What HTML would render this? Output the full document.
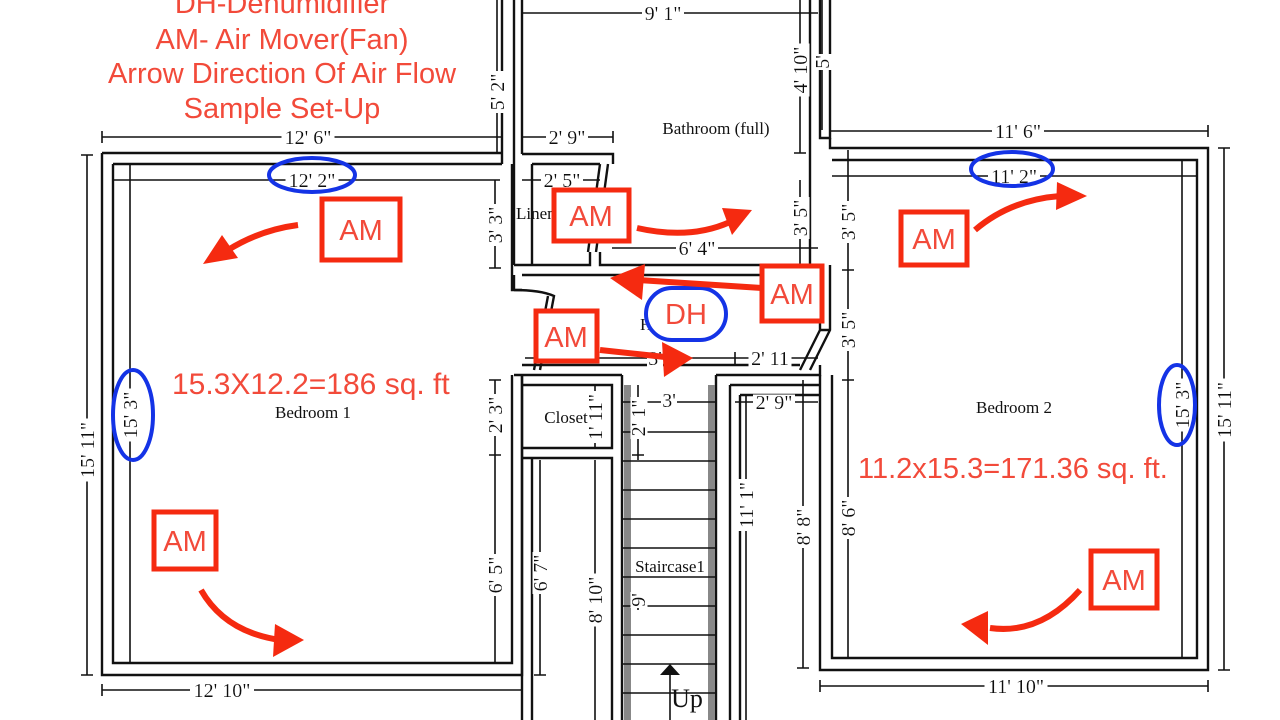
<!DOCTYPE html>
<html><head><meta charset="utf-8"><style>
html,body{margin:0;padding:0;background:#fff;width:1280px;height:720px;overflow:hidden}
svg{display:block}
.w{stroke:#111;stroke-width:2.4;fill:none}
.d{stroke:#111;stroke-width:1.6;fill:none}
.t{font-family:"Liberation Serif",serif;font-size:20px;fill:#111;filter:url(#bg)}
.n{font-family:"Liberation Serif",serif;font-size:17px;fill:#111}
.r{font-family:"Liberation Sans",sans-serif;fill:#f24a3a}
.bx{stroke:#f52a10;stroke-width:5;fill:#fff}
.bo{stroke:#1433e6;stroke-width:4;fill:none}
.ar{stroke:#f52a10;stroke-width:6;fill:none;stroke-linecap:butt}
.ah{fill:#f52a10}
</style></head><body>
<svg width="1280" height="720" viewBox="0 0 1280 720" xmlns="http://www.w3.org/2000/svg">
<defs>
<filter id="bg" x="-0.06" y="0.12" width="1.12" height="0.76">
<feFlood flood-color="#ffffff"/>
<feComposite in="SourceGraphic" operator="over"/>
</filter>
</defs>
<path class="w" d="M102 153 H502 M102 153 V675 H522 V375 M113 164 H502 M113 164 V663 H512 V375"/>
<path class="w" d="M502 0 V164 M514 0 V265 M522 0 V154"/>
<path class="w" d="M512 164 V290 H522 M514 265 H522"/>
<path class="d" d="M102 137 H502 M102 131 V143 M502 131 V143"/>
<text class="t" x="308" y="144" text-anchor="middle">12' 6"</text>
<path class="d" d="M113 180 H500 M130 165 V663"/>
<text class="t" x="312" y="187" text-anchor="middle">12' 2"</text>
<path class="d" d="M87 155 V675 M81 155 H93 M81 675 H93"/>
<text class="t" transform="translate(94 450) rotate(-90)" text-anchor="middle">15' 11"</text>
<text class="t" transform="translate(137 415) rotate(-90)" text-anchor="middle">15' 3"</text>
<path class="d" d="M102 690 H522 M102 684 V696 M522 684 V696"/>
<text class="t" x="222" y="697" text-anchor="middle">12' 10"</text>
<path class="d" d="M495 180 V268 M489 268 H501 M495 380 V663 M489 380 H501 M489 455 H501"/>
<text class="t" transform="translate(502 225) rotate(-90)" text-anchor="middle">3' 3"</text>
<text class="t" transform="translate(502 415) rotate(-90)" text-anchor="middle">2' 3"</text>
<text class="t" transform="translate(502 575) rotate(-90)" text-anchor="middle">6' 5"</text>
<path class="d" d="M497 0 V153"/>
<text class="t" transform="translate(504 92) rotate(-90)" text-anchor="middle">5' 2"</text>

<path class="w" d="M810 0 V265 M820 0 V138 H830 V0"/>
<path class="d" d="M522 13 H818"/>
<text class="t" x="663" y="20" text-anchor="middle">9' 1"</text>
<path class="d" d="M800 0 V153 M794 153 H806 M800 180 V265"/>
<text class="t" transform="translate(807 70) rotate(-90)" text-anchor="middle">4' 10"</text>
<text class="t" transform="translate(807 218) rotate(-90)" text-anchor="middle">3' 5"</text>
<path class="d" d="M822 0 V130"/>
<text class="t" transform="translate(829 62) rotate(-90)" text-anchor="middle">5'</text>
<text class="n" x="716" y="134" text-anchor="middle">Bathroom (full)</text>
<path class="d" d="M522 137 H613 M613 131 V143"/>
<text class="t" x="567" y="144" text-anchor="middle">2' 9"</text>
<path class="w" d="M522 154 H613 V164 M532 164 H600 M532 164 V265 M522 265 H590 V252 M600 252 V265 H810 M600 164 L588 252 M608 164 L596 252"/>
<path class="d" d="M522 180 H600"/>
<text class="t" x="562" y="187" text-anchor="middle">2' 5"</text>
<text class="n" x="516" y="219">Linen</text>
<path class="d" d="M612 248 H818"/>
<text class="t" x="697" y="255" text-anchor="middle">6' 4"</text>
<path class="w" d="M522 275 H820 M514 290 V275 M514 290 C530 290 545 292 554 296 L540 370 M548 296 L534 370 M522 365 H800 M514 375 H622 M716 375 H820 V365 M820 265 V330 L800 370 M830 265 V330 L810 370 M820 330 H830"/>
<text class="n" x="640" y="330">H</text>
<path class="d" d="M525 358 H818 M735 352 V364"/>
<text class="t" x="655" y="365" text-anchor="middle">3'</text>
<text class="t" x="770" y="365" text-anchor="middle">2' 11</text>
<path class="w" d="M522 375 V720 M522 385 H612 V448 H522 M522 458 H612 V720 M532 458 V720"/>
<path class="d" d="M595 385 V448 M540 460 V675 M534 675 H546 M595 460 V720"/>
<text class="n" x="566" y="423" text-anchor="middle">Closet</text>
<text class="t" transform="translate(602 417) rotate(-90)" text-anchor="middle">1' 11"</text>
<text class="t" transform="translate(547 573) rotate(-90)" text-anchor="middle">6' 7"</text>
<text class="t" transform="translate(602 600) rotate(-90)" text-anchor="middle">8' 10"</text>
<path class="w" d="M622 375 V720 M716 375 V720"/>
<rect x="624" y="385" width="7" height="335" fill="#888"/>
<rect x="708" y="385" width="7" height="335" fill="#888"/>
<g class="d">
<path d="M622 432 H716 M622 461 H716 M622 490 H716 M622 519 H716 M622 548 H716 M622 577 H716 M622 606 H716 M622 635 H716 M622 664 H716 M622 693 H716"/>
<path d="M638 385 V460 M632 455 H644 M638 595 V610 M622 402 H716"/>
</g>
<text class="t" x="669" y="407" text-anchor="middle">3'</text>
<text class="t" transform="translate(645 418) rotate(-90)" text-anchor="middle">2' 1"</text>
<text class="t" transform="translate(645 600) rotate(-90)" text-anchor="middle">9'</text>
<text class="n" x="670" y="572" text-anchor="middle">Staircase1</text>
<path class="d" d="M670 675 V720"/>
<polygon points="660,675 680,675 670,664" fill="#111"/>
<text class="n" x="687" y="707" text-anchor="middle" style="font-size:26px">Up</text>
<path class="w" d="M730 385 V720 M740 395 V720 M730 385 H820 M740 395 H820 M820 375 V385"/>
<path class="d" d="M735 402 H818 M746 395 V720"/>
<text class="t" x="774" y="409" text-anchor="middle">2' 9"</text>
<text class="t" transform="translate(753 505) rotate(-90)" text-anchor="middle">11' 1"</text>

<path class="w" d="M830 138 V148 H1208 V670 H820 V385 M832 160 H1197 V658 H832 V375"/>
<path class="d" d="M830 131 H1208 M1208 125 V137"/>
<text class="t" x="1018" y="138" text-anchor="middle">11' 6"</text>
<path class="d" d="M832 176 H1197 M848 150 V658 M842 270 H854 M842 380 H854 M1182 160 V658"/>
<text class="t" x="1014" y="183" text-anchor="middle">11' 2"</text>
<text class="t" transform="translate(855 222) rotate(-90)" text-anchor="middle">3' 5"</text>
<text class="t" transform="translate(855 330) rotate(-90)" text-anchor="middle">3' 5"</text>
<text class="t" transform="translate(855 518) rotate(-90)" text-anchor="middle">8' 6"</text>
<text class="t" transform="translate(1189 405) rotate(-90)" text-anchor="middle">15' 3"</text>
<path class="d" d="M1224 148 V670 M1218 148 H1230 M1218 670 H1230"/>
<text class="t" transform="translate(1231 410) rotate(-90)" text-anchor="middle">15' 11"</text>
<path class="d" d="M803 380 V668 M797 668 H809"/>
<text class="t" transform="translate(810 527) rotate(-90)" text-anchor="middle">8' 8"</text>
<path class="d" d="M820 686 H1208 M820 680 V692 M1208 680 V692"/>
<text class="t" x="1016" y="693" text-anchor="middle">11' 10"</text>
<text class="n" x="1014" y="413" text-anchor="middle">Bedroom 2</text>
<text class="n" x="313" y="418" text-anchor="middle">Bedroom 1</text>

<g class="r" font-size="29" text-anchor="middle">
<text x="282" y="13">DH-Dehumidifier</text>
<text x="282" y="49">AM- Air Mover(Fan)</text>
<text x="282" y="83">Arrow Direction Of  Air Flow</text>
<text x="282" y="118">Sample Set-Up</text>
</g>

<text class="r" x="172" y="394" font-size="30">15.3X12.2=186 sq. ft</text>
<text class="r" x="858" y="478" font-size="29">11.2x15.3=171.36 sq. ft.</text>

<ellipse class="bo" cx="312" cy="175" rx="43" ry="17"/>
<ellipse class="bo" cx="1012" cy="169" rx="41" ry="17"/>
<ellipse class="bo" cx="133" cy="415" rx="20" ry="45"/>
<ellipse class="bo" cx="1177" cy="405" rx="18" ry="40"/>
<rect class="bo" x="646" y="288" width="80" height="52" rx="26" style="fill:#fff"/>
<text class="r" x="686" y="324" font-size="29" text-anchor="middle">DH</text>

<path class="ar" d="M298 225 Q260 230 228 250"/><polygon class="ah" points="203,264 222,235 238,258"/>
<path class="ar" d="M637 228 Q690 240 730 222"/><polygon class="ah" points="752,210 722,208 732,235"/>
<path class="ar" d="M975 230 Q1010 200 1060 196"/><polygon class="ah" points="1087,196 1057,182 1056,210"/>
<path class="ar" d="M762 288 L638 280"/><polygon class="ah" points="610,278 645,264 642,300"/>
<path class="ar" d="M600 350 L665 357"/><polygon class="ah" points="693,358 662,342 664,377"/>
<path class="ar" d="M201 590 Q225 632 280 640"/><polygon class="ah" points="304,640 275,624 273,657"/>
<path class="ar" d="M1080 590 Q1040 635 990 628"/><polygon class="ah" points="961,624 988,611 988,645"/>

<g>
<rect class="bx" x="322" y="199" width="78" height="61"/><text class="r" x="361" y="240" font-size="29" text-anchor="middle">AM</text>
<rect class="bx" x="554" y="190" width="75" height="51"/><text class="r" x="591" y="226" font-size="29" text-anchor="middle">AM</text>
<rect class="bx" x="901" y="212" width="66" height="53"/><text class="r" x="934" y="249" font-size="29" text-anchor="middle">AM</text>
<rect class="bx" x="762" y="266" width="60" height="55"/><text class="r" x="792" y="304" font-size="29" text-anchor="middle">AM</text>
<rect class="bx" x="536" y="311" width="61" height="50"/><text class="r" x="566" y="347" font-size="29" text-anchor="middle">AM</text>
<rect class="bx" x="154" y="512" width="62" height="57"/><text class="r" x="185" y="551" font-size="29" text-anchor="middle">AM</text>
<rect class="bx" x="1091" y="551" width="66" height="57"/><text class="r" x="1124" y="590" font-size="29" text-anchor="middle">AM</text>
</g>
</svg>
</body></html>
